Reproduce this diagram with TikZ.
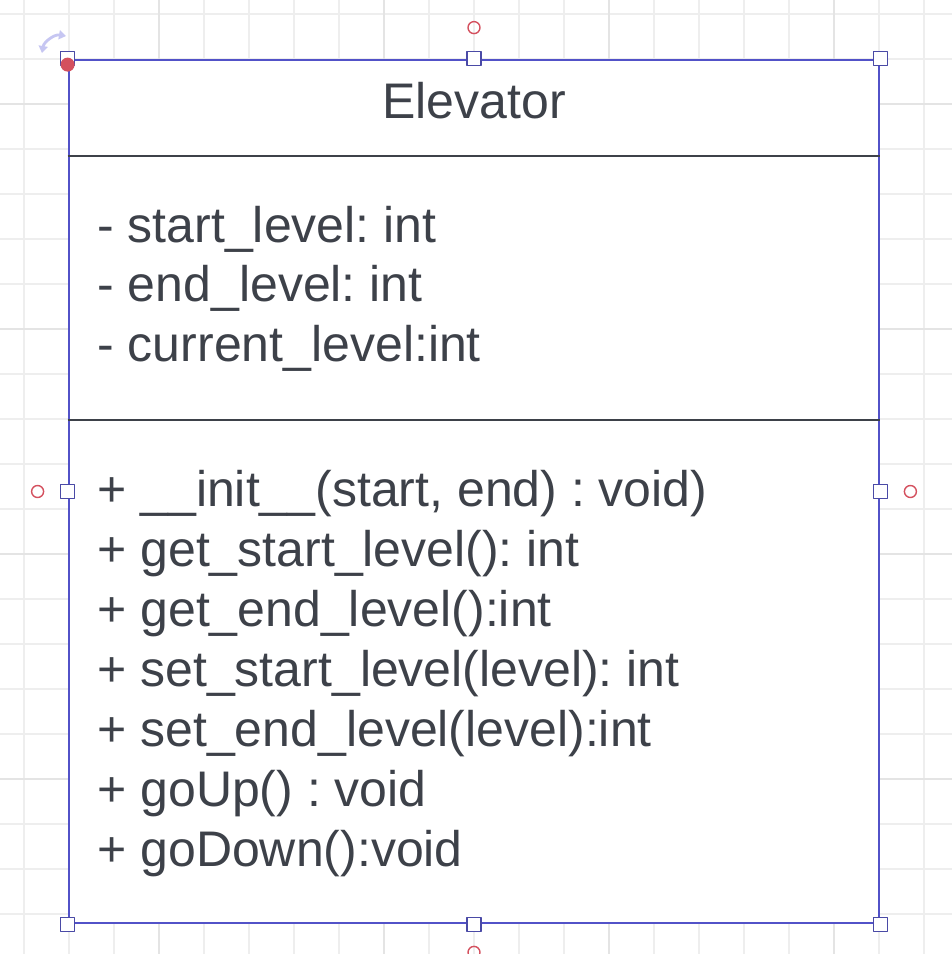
\documentclass[tikz,border=0pt]{standalone}
\usepackage{fontspec}
\setmainfont{Liberation Sans}
\usetikzlibrary{arrows,arrows.meta}
\definecolor{gridgray}{HTML}{EEEEEE}
\definecolor{gridmajor}{HTML}{E4E4E4}
\definecolor{boxblue}{HTML}{5252C8}
\definecolor{handleblue}{HTML}{4A4AA6}
\definecolor{umlgray}{HTML}{3D4149}
\definecolor{pinred}{HTML}{D4505E}
\definecolor{rotlilac}{HTML}{C6C6F2}
\begin{document}
\frenchspacing
\begin{tikzpicture}[line cap=round,line join=round,>=triangle 45,x=0.5pt,y=-0.5pt,
  gridline/.style={draw=gridgray,line width=0.6pt},
  majorline/.style={draw=gridmajor,line width=0.6pt},
  classbox/.style={draw=boxblue,fill=white,line width=1.4pt,minimum width=405pt,minimum height=431.5pt,inner sep=0pt},
  divider/.style={draw=umlgray,line width=1pt,line cap=butt},
  umltext/.style={anchor=base west,inner sep=0pt,text=umlgray,font=\fontsize{25}{30}\selectfont},
  selhandle/.style={draw=handleblue,fill=white,line width=0.8pt},
  pinring/.style={draw=pinred,line width=0.7pt},
  rotarrow/.style={draw=rotlilac,line width=1.4pt,{Triangle[length=3.5pt,width=4.5pt]}-{Triangle[length=3.5pt,width=4.5pt]}}]
\clip (0,0) rectangle (952,954);
\fill[white] (0,0) rectangle (952,954);
% background grid
\foreach \x in {24,69,...,924} \draw[gridline] (\x,0) -- (\x,954);
\foreach \y in {14,59,...,954} \draw[gridline] (0,\y) -- (952,\y);
\foreach \x in {159,384,609,834} \draw[majorline] (\x,0) -- (\x,954);
\foreach \y in {104,329,554,779} \draw[majorline] (0,\y) -- (952,\y);
% class box
\node[classbox] (elevator) at (474,491.5) {};
\coordinate (sep1) at (0,156);
\coordinate (sep2) at (0,420);
\draw[divider] (elevator.west |- sep1) -- (elevator.east |- sep1);
\draw[divider] (elevator.west |- sep2) -- (elevator.east |- sep2);
\node[umltext,anchor=base] (title) at (474,118) {Elevator};
\foreach \txt [count=\i] in {{- start\_level: int},{- end\_level: int},{- current\_level:int}}
  \node[umltext] (attr\i) at (97,{242+59.5*(\i-1)}) {\txt};
\foreach \txt [count=\i] in {{+ \_\_init\_\_(start, end) : void)},{+ get\_start\_level(): int},{+ get\_end\_level():int},{+ set\_start\_level(level): int},{+ set\_end\_level(level):int},{+ goUp() : void},{+ goDown():void}}
  \node[umltext] (meth\i) at (97,{506+60*(\i-1)}) {\txt};
% selection handles
\foreach \a in {north west,north,north east,west,east,south west,south,south east}
  \draw[selhandle] ([shift={(-7,-7)}]elevator.\a) rectangle ++(14,14);
\draw[pinring] ([yshift=15.5pt]elevator.north) circle[radius=3pt];
\draw[pinring] ([xshift=-15pt]elevator.west) circle[radius=3pt];
\draw[pinring] ([xshift=15pt]elevator.east) circle[radius=3pt];
\draw[pinring] ([yshift=-14pt]elevator.south) circle[radius=3pt];
\fill[pinred] ([yshift=-3pt]elevator.north west) circle[radius=3.5pt];
\coordinate (rot1) at (42,53);
\coordinate (rot2) at (66,36);
\draw[rotarrow] (rot1) to[bend left=45] (rot2);
\end{tikzpicture}
\end{document}
